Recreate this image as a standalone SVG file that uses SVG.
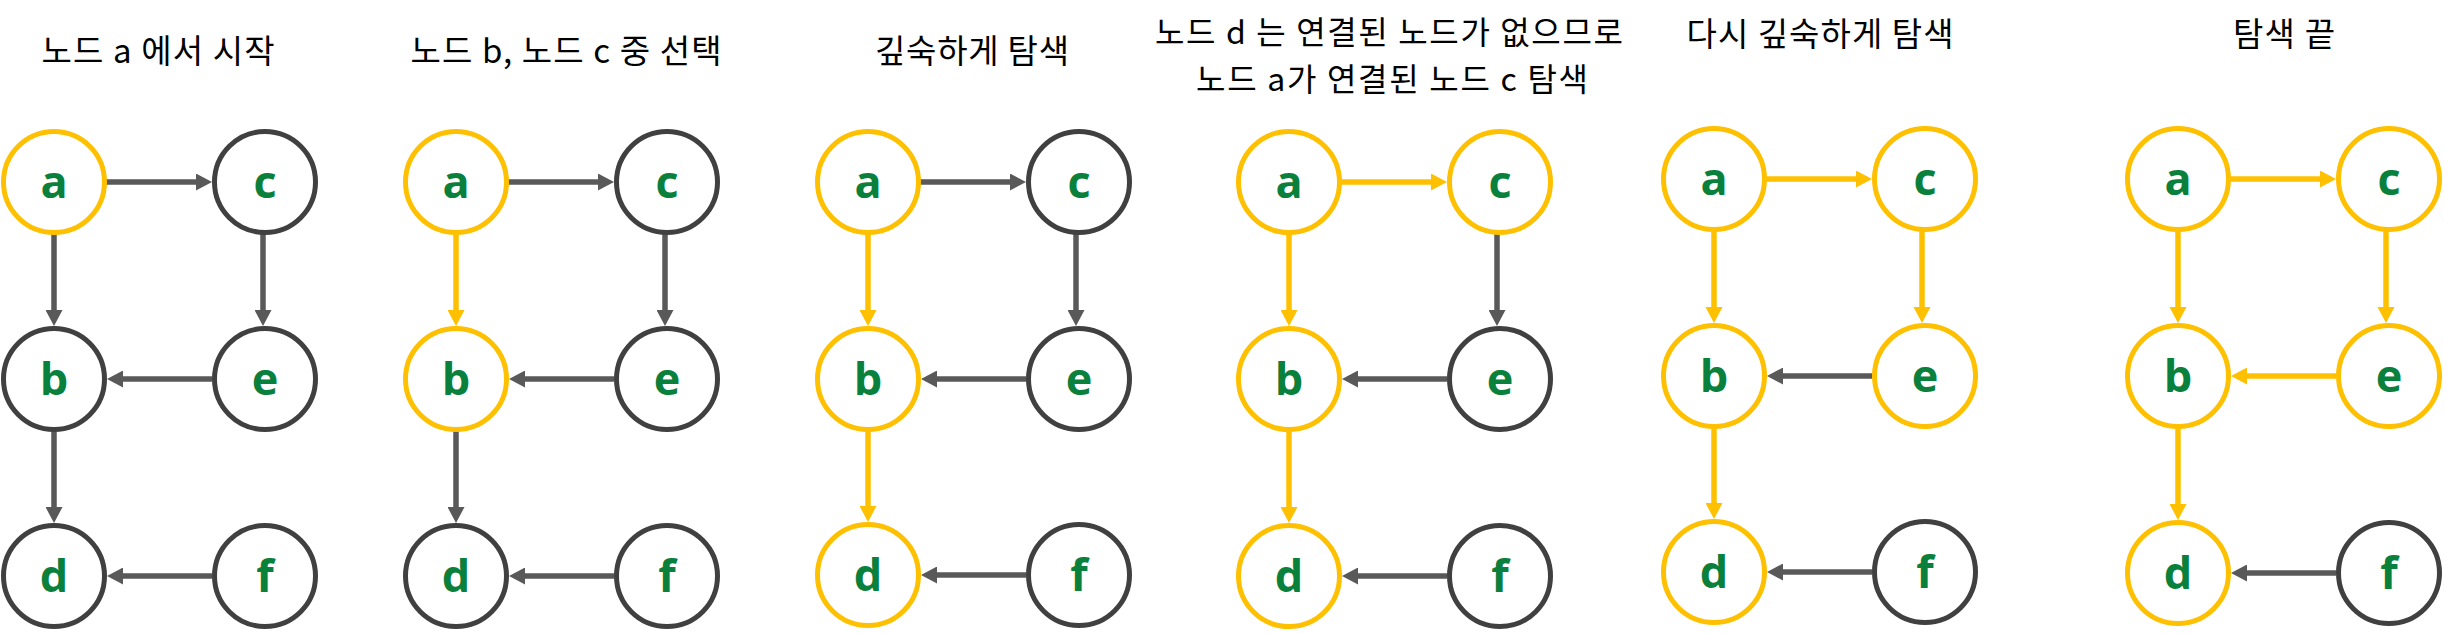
<svg xmlns="http://www.w3.org/2000/svg" width="2444" height="634" viewBox="0 0 2444 634">
<style>
.bg{fill:#ffffff}
.title{font-family:"Noto Sans CJK KR","Noto Sans",sans-serif;font-size:33px;fill:#000000;text-anchor:middle}
.t2{font-size:32px}
.n circle{fill:#ffffff;stroke-width:5}
.g circle{stroke:#404040}
.y circle{stroke:#FFC000}
.n text{font-family:"Open Sans","Noto Sans",sans-serif;font-weight:bold;font-size:45px;fill:#0A803D;text-anchor:middle}
.eg{stroke:#595959;stroke-width:5.5;fill:none;marker-end:url(#ag)}
.ey{stroke:#FFC000;stroke-width:5.5;fill:none;marker-end:url(#ay)}
</style>
<defs>
<marker id="ag" markerUnits="userSpaceOnUse" viewBox="0 0 16 17" markerWidth="16" markerHeight="17" refX="2" refY="8.5" orient="auto"><path d="M0,0 L16,8.5 L0,17 z" fill="#595959"/></marker>
<marker id="ay" markerUnits="userSpaceOnUse" viewBox="0 0 16 17" markerWidth="16" markerHeight="17" refX="2" refY="8.5" orient="auto"><path d="M0,0 L16,8.5 L0,17 z" fill="#FFC000"/></marker>
</defs>
<rect class="bg" x="0" y="0" width="2444" height="634"/>

<!-- Panel 1 -->
<g id="panel1">
<text class="title" x="158" y="63" textLength="233">노드 a 에서 시작</text>
<g id="p1-connectors">
<path class="eg" d="M105,182 H198"/>
<path class="eg" d="M54,233 V312"/>
<path class="eg" d="M263,233 V312"/>
<path class="eg" d="M212,379 H121"/>
<path class="eg" d="M54,430 V509"/>
<path class="eg" d="M212,576 H121"/>
</g>
<g id="p1-a" class="n y"><circle cx="54" cy="182" r="50.5"/><text x="54" y="198">a</text></g>
<g id="p1-c" class="n g"><circle cx="265" cy="182" r="50.5"/><text x="265" y="198">c</text></g>
<g id="p1-b" class="n g"><circle cx="54" cy="379" r="50.5"/><text x="54" y="395">b</text></g>
<g id="p1-e" class="n g"><circle cx="265" cy="379" r="50.5"/><text x="265" y="395">e</text></g>
<g id="p1-d" class="n g"><circle cx="54" cy="576" r="50.5"/><text x="54" y="592">d</text></g>
<g id="p1-f" class="n g"><circle cx="265" cy="576" r="50.5"/><text x="265" y="592">f</text></g>
</g>

<!-- Panel 2 -->
<g id="panel2">
<text class="title" x="566" y="63" textLength="311">노드 b, 노드 c 중 선택</text>
<g id="p2-connectors">
<path class="eg" d="M507,182 H600"/>
<path class="ey" d="M456,233 V312"/>
<path class="eg" d="M665,233 V312"/>
<path class="eg" d="M614,379 H523"/>
<path class="eg" d="M456,430 V509"/>
<path class="eg" d="M614,576 H523"/>
</g>
<g id="p2-a" class="n y"><circle cx="456" cy="182" r="50.5"/><text x="456" y="198">a</text></g>
<g id="p2-c" class="n g"><circle cx="667" cy="182" r="50.5"/><text x="667" y="198">c</text></g>
<g id="p2-b" class="n y"><circle cx="456" cy="379" r="50.5"/><text x="456" y="395">b</text></g>
<g id="p2-e" class="n g"><circle cx="667" cy="379" r="50.5"/><text x="667" y="395">e</text></g>
<g id="p2-d" class="n g"><circle cx="456" cy="576" r="50.5"/><text x="456" y="592">d</text></g>
<g id="p2-f" class="n g"><circle cx="667" cy="576" r="50.5"/><text x="667" y="592">f</text></g>
</g>

<!-- Panel 3 -->
<g id="panel3">
<text class="title" x="972" y="63" textLength="194">깊숙하게 탐색</text>
<g id="p3-connectors">
<path class="eg" d="M919,182 H1012"/>
<path class="ey" d="M868,233 V312"/>
<path class="eg" d="M1076,233 V312"/>
<path class="eg" d="M1026,379 H935"/>
<path class="ey" d="M868,430 V508"/>
<path class="eg" d="M1026,575 H935"/>
</g>
<g id="p3-a" class="n y"><circle cx="868" cy="182" r="50.5"/><text x="868" y="198">a</text></g>
<g id="p3-c" class="n g"><circle cx="1079" cy="182" r="50.5"/><text x="1079" y="198">c</text></g>
<g id="p3-b" class="n y"><circle cx="868" cy="379" r="50.5"/><text x="868" y="395">b</text></g>
<g id="p3-e" class="n g"><circle cx="1079" cy="379" r="50.5"/><text x="1079" y="395">e</text></g>
<g id="p3-d" class="n y"><circle cx="868" cy="575" r="50.5"/><text x="868" y="591">d</text></g>
<g id="p3-f" class="n g"><circle cx="1079" cy="575" r="50.5"/><text x="1079" y="591">f</text></g>
</g>

<!-- Panel 4 -->
<g id="panel4">
<text class="title t2"><tspan x="1389" y="44" textLength="468">노드 d 는 연결된 노드가 없으므로</tspan><tspan x="1392" y="91" textLength="392">노드 a가 연결된 노드 c 탐색</tspan></text>
<g id="p4-connectors">
<path class="ey" d="M1340,182 H1433"/>
<path class="ey" d="M1289,233 V312"/>
<path class="eg" d="M1497,233 V312"/>
<path class="eg" d="M1447,379 H1356"/>
<path class="ey" d="M1289,430 V509"/>
<path class="eg" d="M1447,576 H1356"/>
</g>
<g id="p4-a" class="n y"><circle cx="1289" cy="182" r="50.5"/><text x="1289" y="198">a</text></g>
<g id="p4-c" class="n y"><circle cx="1500" cy="182" r="50.5"/><text x="1500" y="198">c</text></g>
<g id="p4-b" class="n y"><circle cx="1289" cy="379" r="50.5"/><text x="1289" y="395">b</text></g>
<g id="p4-e" class="n g"><circle cx="1500" cy="379" r="50.5"/><text x="1500" y="395">e</text></g>
<g id="p4-d" class="n y"><circle cx="1289" cy="576" r="50.5"/><text x="1289" y="592">d</text></g>
<g id="p4-f" class="n g"><circle cx="1500" cy="576" r="50.5"/><text x="1500" y="592">f</text></g>
</g>

<!-- Panel 5 -->
<g id="panel5">
<text class="title" x="1820" y="46" textLength="267">다시 깊숙하게 탐색</text>
<g id="p5-connectors">
<path class="ey" d="M1765,179 H1858"/>
<path class="ey" d="M1714,230 V309"/>
<path class="ey" d="M1922,230 V309"/>
<path class="eg" d="M1872,376 H1781"/>
<path class="ey" d="M1714,427 V505"/>
<path class="eg" d="M1872,572 H1781"/>
</g>
<g id="p5-a" class="n y"><circle cx="1714" cy="179" r="50.5"/><text x="1714" y="195">a</text></g>
<g id="p5-c" class="n y"><circle cx="1925" cy="179" r="50.5"/><text x="1925" y="195">c</text></g>
<g id="p5-b" class="n y"><circle cx="1714" cy="376" r="50.5"/><text x="1714" y="392">b</text></g>
<g id="p5-e" class="n y"><circle cx="1925" cy="376" r="50.5"/><text x="1925" y="392">e</text></g>
<g id="p5-d" class="n y"><circle cx="1714" cy="572" r="50.5"/><text x="1714" y="588">d</text></g>
<g id="p5-f" class="n g"><circle cx="1925" cy="572" r="50.5"/><text x="1925" y="588">f</text></g>
</g>

<!-- Panel 6 -->
<g id="panel6">
<text class="title" x="2284" y="46" textLength="102">탐색 끝</text>
<g id="p6-connectors">
<path class="ey" d="M2229,179 H2322"/>
<path class="ey" d="M2178,230 V309"/>
<path class="ey" d="M2386,230 V309"/>
<path class="ey" d="M2336,376 H2245"/>
<path class="ey" d="M2178,427 V506"/>
<path class="eg" d="M2336,573 H2245"/>
</g>
<g id="p6-a" class="n y"><circle cx="2178" cy="179" r="50.5"/><text x="2178" y="195">a</text></g>
<g id="p6-c" class="n y"><circle cx="2389" cy="179" r="50.5"/><text x="2389" y="195">c</text></g>
<g id="p6-b" class="n y"><circle cx="2178" cy="376" r="50.5"/><text x="2178" y="392">b</text></g>
<g id="p6-e" class="n y"><circle cx="2389" cy="376" r="50.5"/><text x="2389" y="392">e</text></g>
<g id="p6-d" class="n y"><circle cx="2178" cy="573" r="50.5"/><text x="2178" y="589">d</text></g>
<g id="p6-f" class="n g"><circle cx="2389" cy="573" r="50.5"/><text x="2389" y="589">f</text></g>
</g>
</svg>
